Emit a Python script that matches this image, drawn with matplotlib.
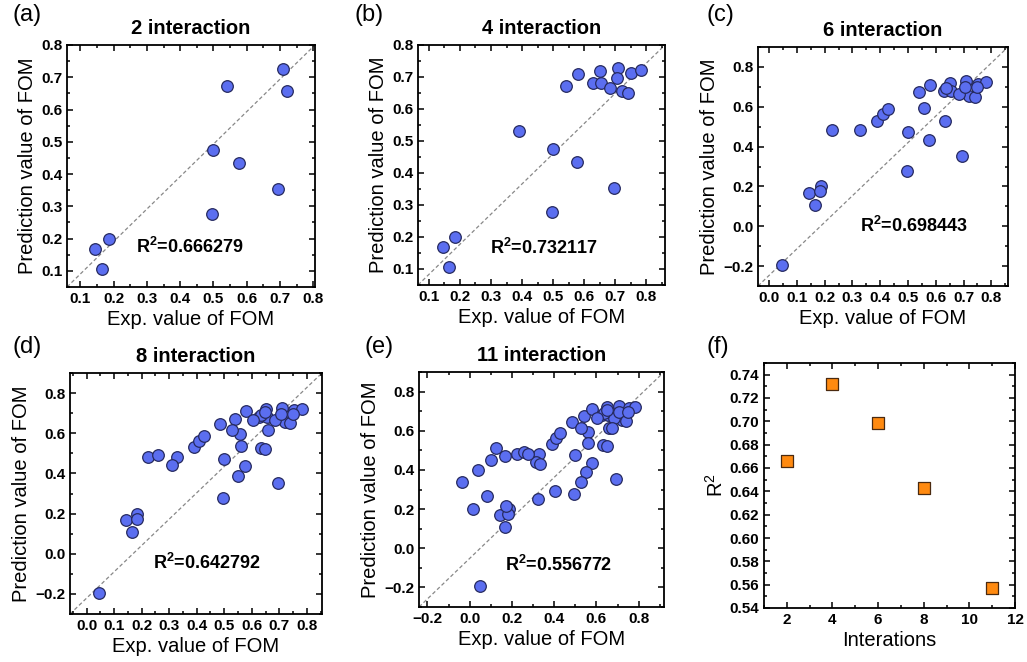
import numpy as np
import matplotlib
matplotlib.use('Agg')
import matplotlib.pyplot as plt
from matplotlib.ticker import MultipleLocator

plt.rcParams['font.family'] = ['Liberation Sans', 'DejaVu Sans']
plt.rcParams['mathtext.fontset'] = 'custom'
plt.rcParams['mathtext.rm'] = 'Liberation Sans'
plt.rcParams['mathtext.bf'] = 'Liberation Sans:bold'

# ---- data ----
# panel (a): 2 interaction
x_a = [0.145, 0.165, 0.185, 0.495, 0.5, 0.54, 0.577, 0.695, 0.708, 0.72]
y_a = [0.168, 0.106, 0.200, 0.277, 0.474, 0.673, 0.435, 0.354, 0.727, 0.656]

# panel (b): 4 interaction = (a) + new points
x_b_new = [0.39, 0.58, 0.628, 0.652, 0.655, 0.683, 0.705, 0.74, 0.752, 0.782]
y_b_new = [0.530, 0.710, 0.680, 0.720, 0.680, 0.665, 0.698, 0.650, 0.714, 0.723]

# panel (c): 6 interaction = (b) + new points
x_c_new = [0.047, 0.182, 0.225, 0.328, 0.41, 0.427, 0.558, 0.633, 0.635, 0.748]
y_c_new = [-0.193, 0.175, 0.481, 0.481, 0.562, 0.588, 0.596, 0.526, 0.692, 0.698]

# panel (d): 8 interaction = (c) + new points
x_d_new = [0.258, 0.312, 0.484, 0.528, 0.56, 0.549, 0.603, 0.649, 0.66, 0.648]
y_d_new = [0.490, 0.440, 0.645, 0.614, 0.538, 0.388, 0.665, 0.520, 0.614, 0.706]

# panel (e): 11 interaction = (d) + new points
x_e_new = [-0.037, 0.017, 0.037, 0.084, 0.10, 0.124, 0.167, 0.172, 0.275, 0.335,
           0.325, 0.405, 0.527, 0.672]
y_e_new = [0.338, 0.198, 0.400, 0.268, 0.450, 0.510, 0.473, 0.215, 0.480, 0.432,
           0.250, 0.290, 0.340, 0.615]

titles = ['2 interaction', '4 interaction', '6 interaction', '8 interaction', '11 interaction']
r2_text = ['0.666279', '0.732117', '0.698443', '0.642792', '0.556772']

# panel (f)
iterations = [2, 4, 6, 8, 11]
r2_values = [0.666279, 0.732117, 0.698443, 0.642792, 0.556772]

xs = [x_a]
ys = [y_a]
for xn, yn in [(x_b_new, y_b_new), (x_c_new, y_c_new), (x_d_new, y_d_new), (x_e_new, y_e_new)]:
    xs.append(xs[-1] + xn)
    ys.append(ys[-1] + yn)

# ---- layout ----
fig = plt.figure(figsize=(10.27, 6.62), dpi=100)
W, H = 1027, 662
boxes = [(67, 315, 45, 287), (418, 665, 45, 285), (758, 1008, 47, 286),
         (70, 322, 373, 614), (419, 664, 372, 607), (764, 1015, 363, 608)]
axes = []
for l, r, t, b in boxes:
    axes.append(fig.add_axes([l / W, 1 - b / H, (r - l) / W, (b - t) / H]))

xlims = [(0.06, 0.805), (0.065, 0.86), (-0.04, 0.86), (-0.06, 0.855), (-0.24, 0.92)]
ylims = [(0.05, 0.8), (0.05, 0.8), (-0.3, 0.9), (-0.3, 0.9), (-0.3, 0.9)]
xmaj = [0.1, 0.1, 0.1, 0.1, 0.2]
ymaj = [0.1, 0.1, 0.2, 0.2, 0.2]
txt_pos = [(0.28, 0.165), (0.29, 0.155), (0.41, 0.25), (0.33, 0.21), (0.35, 0.18)]

def style(ax):
    for s in ax.spines.values():
        s.set_linewidth(1.3)
    ax.tick_params(which='both', direction='in', top=True, right=True, width=1.1)
    ax.tick_params(which='major', length=4, labelsize=11)
    ax.tick_params(which='minor', length=2.5)
    for lab in ax.get_xticklabels() + ax.get_yticklabels():
        lab.set_fontweight('bold')

for i in range(5):
    ax = axes[i]
    ax.plot([0, 1], [0, 1], transform=ax.transAxes, ls=(0, (3, 2)), color='#888888', lw=0.9, zorder=1)
    ax.scatter(xs[i], ys[i], s=70, color='#5b6ef0', edgecolor='#262a60', linewidth=0.9, zorder=3)
    ax.set_xlim(*xlims[i])
    ax.set_ylim(*ylims[i])
    ax.xaxis.set_major_locator(MultipleLocator(xmaj[i]))
    ax.xaxis.set_minor_locator(MultipleLocator(xmaj[i] / 2))
    ax.yaxis.set_major_locator(MultipleLocator(ymaj[i]))
    ax.yaxis.set_minor_locator(MultipleLocator(ymaj[i] / 2))
    ax.set_title(titles[i], fontsize=14.5, fontweight='bold', pad=8)
    ax.set_xlabel('Exp. value of FOM', fontsize=14.5, labelpad=3)
    ax.set_ylabel('Prediction value of FOM', fontsize=14.5, labelpad=3)
    ax.text(txt_pos[i][0], txt_pos[i][1], r'R$^{\mathbf{2}}$=' + r2_text[i], transform=ax.transAxes,
            fontsize=13, fontweight='bold', va='center', ha='left')
    style(ax)

ax = axes[5]
ax.scatter(iterations, r2_values, marker='s', s=72, color='#ff8a10', edgecolor='#4a2a10', linewidth=0.9, zorder=3)
ax.set_xlim(1, 12)
ax.set_ylim(0.54, 0.75)
ax.xaxis.set_major_locator(MultipleLocator(2))
ax.xaxis.set_minor_locator(MultipleLocator(1))
ax.yaxis.set_major_locator(MultipleLocator(0.02))
ax.yaxis.set_minor_locator(MultipleLocator(0.01))
ax.set_xlabel('Interations', fontsize=14.5, labelpad=3)
ax.set_ylabel(r'R$^{\mathrm{2}}$', fontsize=14.5, labelpad=2)
style(ax)

panel_labels = ['(a)', '(b)', '(c)', '(d)', '(e)', '(f)']
label_xy = [(12, 4), (354, 4), (706, 4), (12, 336), (364, 336), (707, 336)]
for lab, (px, py) in zip(panel_labels, label_xy):
    fig.text(px / W, 1 - py / H, lab, fontsize=17, va='top', ha='left')

fig.savefig('out.png', dpi=100)
